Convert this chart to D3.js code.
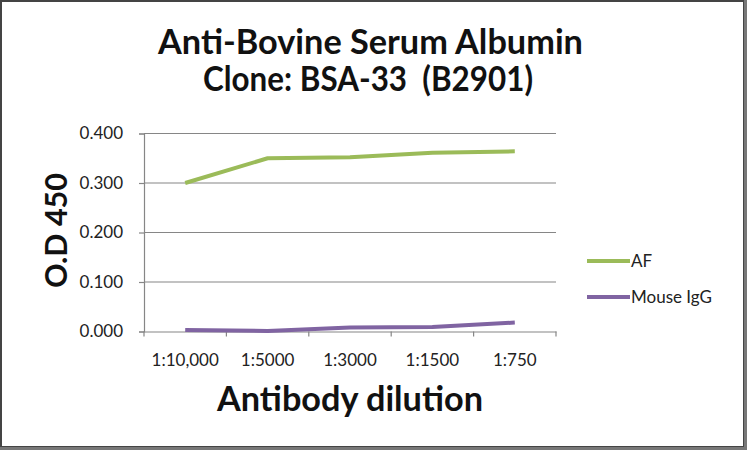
<!DOCTYPE html>
<html><head><meta charset="utf-8">
<script src="https://cdn.jsdelivr.net/npm/d3@7"></script>
<style>body{margin:0;background:#fff}svg{display:block}</style>
</head><body>
<svg id="c" width="747" height="450"></svg>
<script>
const categories = ["1:10,000","1:5000","1:3000","1:1500","1:750"];
const afValues = [0.300,0.350,0.352,0.361,0.364];
const iggValues = [0.003,0.001,0.008,0.009,0.018];
const yTicks = [0,0.1,0.2,0.3,0.4];
const seriesNames = ["AF","Mouse IgG"];
const colors = ["#9BBB59","#8064A2"];
const series = [afValues, iggValues];

const svg = d3.select("#c");
const font = "Lato, 'Open Sans', sans-serif";
svg.append("rect").attr("x",0).attr("y",0).attr("width",747).attr("height",450).attr("fill","#fff");
// frame
svg.append("rect").attr("x",1).attr("y",1).attr("width",743).attr("height",446)
  .attr("fill","none").attr("stroke","#444").attr("stroke-width",2);
svg.append("line").attr("x1",745.5).attr("x2",745.5).attr("y1",0).attr("y2",450).attr("stroke","#777").attr("stroke-width",3);
svg.append("line").attr("x1",0).attr("x2",747).attr("y1",448.5).attr("y2",448.5).attr("stroke","#777").attr("stroke-width",3);

const L=144, R=556, T=133.5, B=331.5;
const x = d3.scaleBand().domain(categories).range([L,R]);
const y = d3.scaleLinear().domain([0,0.4]).range([B,T]);

// gridlines
svg.append("g").selectAll("line").data(yTicks.filter(d=>d>0)).join("line")
  .attr("x1",L).attr("x2",R).attr("y1",d=>y(d)).attr("y2",d=>y(d))
  .attr("stroke","#868686").attr("stroke-width",1.2);

// y axis
const ya = svg.append("g").attr("transform",`translate(${L},0)`)
  .call(d3.axisLeft(y).tickValues(yTicks).tickFormat(d3.format(".3f")).tickSize(5).tickPadding(16));
ya.select(".domain").attr("stroke","#868686").attr("stroke-width",1.2);
ya.selectAll(".tick line").attr("stroke","#868686").attr("stroke-width",1.2);
ya.selectAll("text").attr("font-family",font).attr("font-size",17).attr("fill","#222");

// x axis
const xa = svg.append("g").attr("transform",`translate(0,${B})`)
  .call(d3.axisBottom(x).tickSize(0).tickPadding(22));
xa.select(".domain").attr("stroke","#868686").attr("stroke-width",1.2);
xa.selectAll("text").attr("font-family",font).attr("font-size",17).attr("fill","#222");
// category boundary ticks
const bounds = categories.map(c=>x(c)).concat([R]);
xa.append("g").selectAll("line").data(bounds).join("line")
  .attr("x1",d=>d).attr("x2",d=>d).attr("y1",0).attr("y2",5)
  .attr("stroke","#868686").attr("stroke-width",1.2);

// lines
const line = d3.line().x((d,i)=>x(categories[i])+x.bandwidth()/2).y(d=>y(d));
series.forEach((s,i)=>{
  svg.append("path").datum(s).attr("d",line).attr("fill","none")
    .attr("stroke",colors[i]).attr("stroke-width",4).attr("stroke-linejoin","round");
});

// fit text helper
function fitText(t, w){ const cur = t.node().getComputedTextLength(); const fs=+t.attr("font-size"); t.attr("font-size", fs*w/cur); }

// titles
const t1 = svg.append("text").attr("x",370.5).attr("y",54).attr("text-anchor","middle")
  .attr("font-family",font).attr("font-weight","bold").attr("font-size",32).attr("fill","#111")
  .text("Anti-Bovine Serum Albumin");
fitText(t1, 425);
const t2 = svg.append("text").attr("x",368).attr("y",91).attr("text-anchor","middle")
  .attr("font-family",font).attr("font-weight","bold").attr("font-size",t1.attr("font-size")).attr("fill","#111")
  .style("white-space","pre")
  .attr("textLength",330).attr("lengthAdjust","spacingAndGlyphs")
  .text("Clone: BSA-33  (B2901)");

// axis titles
const xt = svg.append("text").attr("x",350).attr("y",411).attr("text-anchor","middle")
  .attr("font-family",font).attr("font-weight","bold").attr("font-size",30).attr("fill","#111")
  .text("Antibody dilution");
fitText(xt, 266);
const yt = svg.append("text").attr("transform","translate(67,230.5) rotate(-90)").attr("text-anchor","middle")
  .attr("font-family",font).attr("font-weight","bold").attr("font-size",27).attr("fill","#111")
  .text("O.D 450");
fitText(yt, 115);

// legend
const lg = svg.append("g");
seriesNames.forEach((n,i)=>{
  const yy = [261,297][i];
  lg.append("line").attr("x1",587).attr("x2",630).attr("y1",yy).attr("y2",yy)
    .attr("stroke",colors[i]).attr("stroke-width",4);
  lg.append("text").attr("x",631).attr("y",yy+6).attr("font-family",font).attr("font-size",17)
    .attr("fill","#222").text(n);
});
</script>
</body></html>
